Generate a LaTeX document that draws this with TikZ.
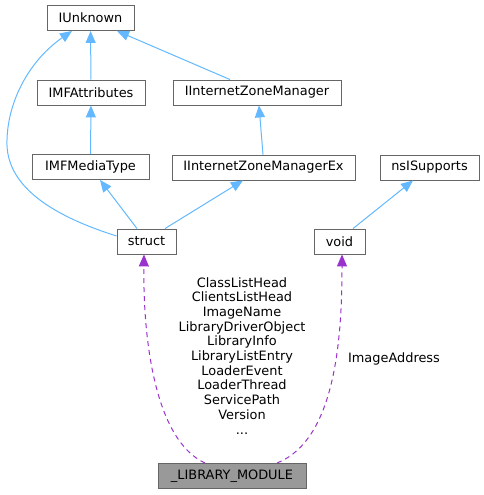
\documentclass[tikz,border=0pt]{standalone}
\usepackage{fontspec}
\setmainfont{DejaVu Sans}
\usetikzlibrary{arrows.meta}

\definecolor{edgeblue}{HTML}{63B8FF}
\definecolor{edgepurple}{HTML}{9A32CD}
\definecolor{boxgray}{HTML}{666666}
\definecolor{mainfill}{HTML}{999999}

\tikzset{
    cls/.style={draw=boxgray, fill=white, line width=0.9pt, minimum height=25pt,
        inner sep=0pt, font=\fontsize{12.9}{14.7}\selectfont},
    inherit/.style={draw=edgeblue, line width=1pt, -{Triangle[length=12pt,width=10pt]}},
    usage/.style={draw=edgepurple, line width=1pt, dash pattern=on 5pt off 4pt,
        -{Triangle[length=12pt,width=10pt]}},
    lbl/.style={inner sep=0pt, align=center, font=\fontsize{12.9}{14.7}\selectfont}
}

\begin{document}
\begin{tikzpicture}[x=1pt, y=-1pt]
    \useasboundingbox (0,0) rectangle (484,495);

    \node[cls, minimum width=87pt] (iunknown) at (90.5,18) {IUnknown};
    \node[cls, minimum width=108pt] (mfattr) at (91,92.5) {IMFAttributes};
    \node[cls, minimum width=168pt] (izm) at (257,92.5) {IInternetZoneManager};
    \node[cls, minimum width=117pt] (mfmedia) at (90.5,167) {IMFMediaType};
    \node[cls, minimum width=183pt] (izmex) at (263.5,167.5) {IInternetZoneManagerEx};
    \node[cls, minimum width=99pt] (nsis) at (429.5,167.5) {nsISupports};
    \node[cls, minimum width=59pt] (struct) at (146.5,241.5) {struct};
    \node[cls, minimum width=51pt] (void) at (339.5,241.5) {void};
    \node[cls, fill=mainfill, minimum width=148pt] (libmod) at (232,476) {\_LIBRARY\_MODULE};

    \draw[inherit] (mfattr) -- (iunknown);
    \draw[inherit] ([xshift=-27pt]izm.north) -- ([xshift=26.5pt]iunknown.south);
    \draw[inherit] ([yshift=5.5pt]struct.west) .. controls (50,215) and (5,185) .. (7,140)
        .. controls (8,100) and (30,60) .. ([xshift=-18.5pt]iunknown.south);
    \draw[inherit] (mfmedia) -- (mfattr);
    \draw[inherit] ([xshift=-9.5pt]struct.north) -- ([xshift=9.5pt]mfmedia.south);
    \draw[inherit] ([xshift=18.5pt]struct.north) -- ([xshift=-20.5pt]izmex.south);
    \draw[inherit] ([xshift=-0.5pt]izmex.north) -- ([xshift=2pt]izm.south);
    \draw[inherit] ([xshift=13.5pt]void.north) -- ([xshift=-16.5pt]nsis.south);

    % member links
    \draw[usage] ([xshift=-27pt]libmod.north) .. controls (155,440) and (143,340)
        .. ([xshift=-2.5pt]struct.south);
    \draw[usage] ([xshift=45pt]libmod.north) .. controls (335,440) and (342,340)
        .. ([xshift=2.5pt]void.south);

    \node[lbl, anchor=north] (structfields) at (242,277) {ClassListHead\\ClientsListHead\\ImageName\\LibraryDriverObject\\LibraryInfo\\LibraryListEntry\\LoaderEvent\\LoaderThread\\ServicePath\\Version\\...};
    \node[lbl] (voidfield) at (394,359) {ImageAddress};
\end{tikzpicture}
\end{document}
